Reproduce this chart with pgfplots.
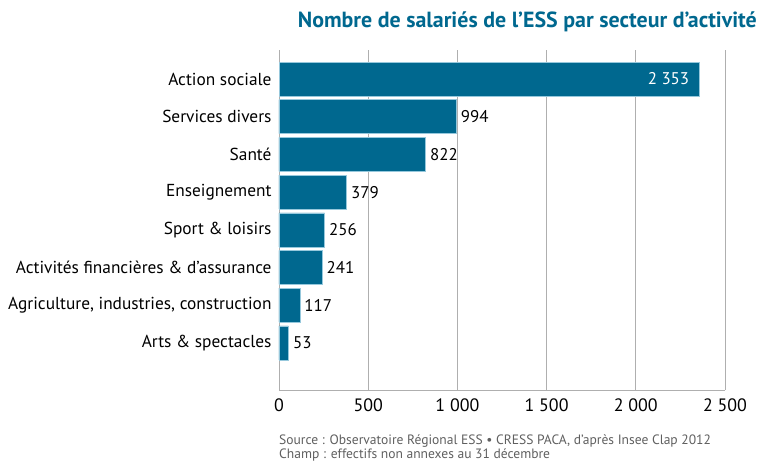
\documentclass[border=0pt]{standalone}
\usepackage{fontspec}
\setmainfont{PT Sans}
\usepackage{pgfplots}
\pgfplotsset{compat=1.18}
\definecolor{essblue}{RGB}{0,104,143}
\definecolor{gridgray}{RGB}{175,175,175}
\definecolor{srcgray}{RGB}{95,95,95}
\definecolor{baredge}{RGB}{150,200,220}

\begin{document}
\begin{tikzpicture}
\useasboundingbox (-279bp,-71bp) rectangle (480bp,390bp);
\begin{axis}[
    at={(0,0)}, anchor=south west,
    scale only axis, width=446bp, height=340bp,
    xmin=0, xmax=2500, ymin=-1.25, ymax=7.77,
    xtick={0,500,...,2500},
    ytick={0,...,7},
    yticklabels={Arts \& spectacles, {Agriculture, industries, construction},
        Activités financières \& d’assurance, Sport \& loisirs, Enseignement,
        Santé, Services divers, Action sociale},
    xmajorgrids, grid style={gridgray, line width=0.8bp},
    axis x line*=bottom, axis y line*=left,
    axis line style={gridgray, line width=0.8bp, -},
    major tick length=0pt,
    yticklabel style={font=\fontsize{17.4}{19}\selectfont, xshift=-4bp},
    xticklabel style={font=\fontsize{18}{20}\selectfont, yshift=-5bp},
    /pgf/number format/assume math mode=true,
    /pgf/number format/1000 sep={\ },
    xbar, bar width=34bp,
    nodes near coords,
    nodes near coords style={font=\fontsize{17}{19}\selectfont, text=black},
]
\addplot[fill=essblue, draw=baredge, line width=0.5bp, bar shift=0pt,
    nodes near coords style={anchor=east, text=white, xshift=-6bp}]
    coordinates {(2353,7)};
\addplot[fill=essblue, draw=baredge, line width=0.5bp, bar shift=0pt,
    nodes near coords style={anchor=west, xshift=1bp}]
    coordinates {(994,6) (822,5) (379,4) (256,3) (241,2) (117,1) (53,0)};
\end{axis}
\node[anchor=base east, text=essblue, font=\bfseries\fontsize{22}{24}\selectfont, inner sep=0pt]
    at (478bp,362bp) {Nombre de salariés de l’ESS par secteur d’activité};
\node[anchor=base west, text=srcgray, font=\fontsize{13.6}{15}\selectfont, inner sep=0pt]
    at (0bp,-54bp) {Source : Observatoire Régional ESS • CRESS PACA, d’après Insee Clap 2012};
\node[anchor=base west, text=srcgray, font=\fontsize{13.6}{15}\selectfont, inner sep=0pt]
    at (0bp,-68bp) {Champ : effectifs non annexes au 31 décembre};
\end{tikzpicture}
\end{document}
